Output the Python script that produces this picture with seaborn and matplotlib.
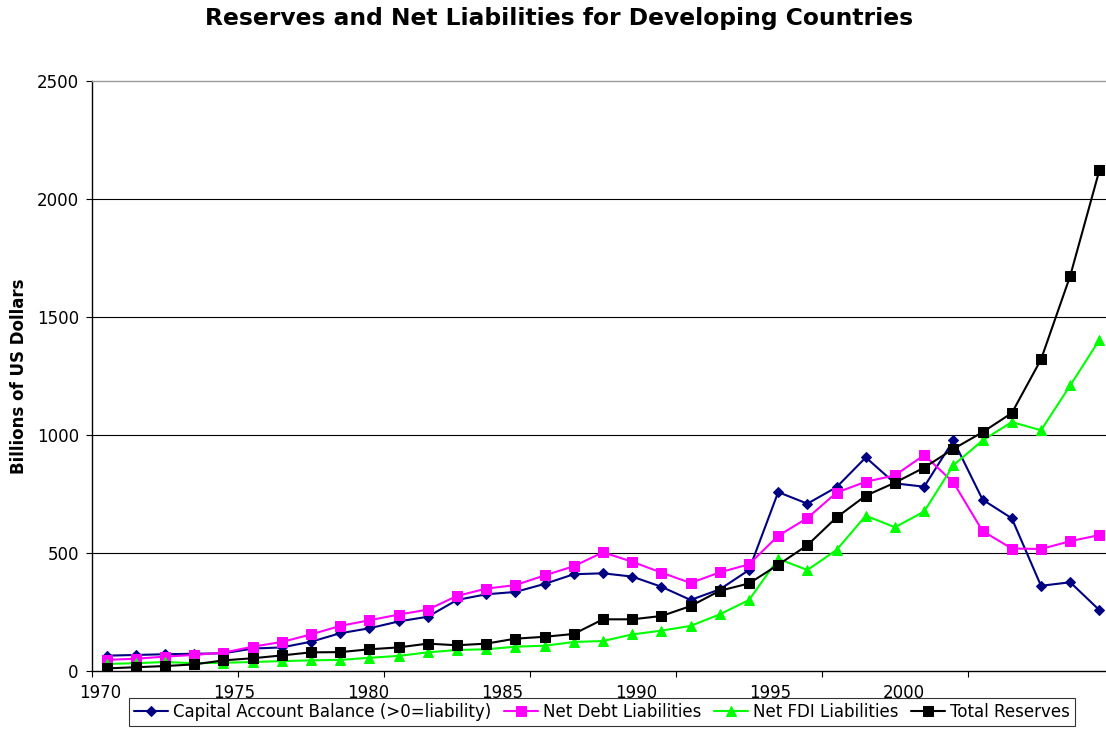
import numpy as np
import pandas as pd
import seaborn as sns
import matplotlib
matplotlib.use("Agg")
import matplotlib.pyplot as plt

years = list(range(1970, 2005))

capital_account = [65, 68, 71, 73, 75, 95, 100, 124, 160, 181, 210, 230, 301, 325, 335,
                   369, 410, 414, 400, 357, 301, 346, 428, 758, 709, 779, 905, 795, 781,
                   977, 726, 647, 361, 376, 258]
net_debt = [47, 52, 61, 68, 78, 103, 123, 155, 191, 215, 239, 260, 318, 349, 364,
            405, 444, 503, 463, 417, 373, 418, 452, 573, 648, 756, 802, 829, 915,
            799, 593, 519, 517, 550, 576]
net_fdi = [30, 33, 38, 33, 35, 38, 42, 45, 47, 56, 64, 79, 89, 92, 103,
           107, 123, 127, 155, 171, 191, 240, 301, 475, 428, 513, 658, 609, 676,
           872, 977, 1055, 1020, 1210, 1403]
total_reserves = [11, 16, 21, 28, 45, 54, 66, 79, 80, 92, 100, 116, 109, 116, 137,
                  145, 157, 219, 219, 233, 275, 340, 371, 450, 533, 651, 743, 798, 862,
                  941, 1012, 1093, 1320, 1674, 2122]

series_names = ["Capital Account Balance (>0=liability)", "Net Debt Liabilities",
                "Net FDI Liabilities", "Total Reserves"]
series_values = [capital_account, net_debt, net_fdi, total_reserves]
series_colors = ["#000080", "#FF00FF", "#00FF00", "#000000"]
series_markers = ["D", "s", "^", "s"]
series_msizes = [5.2, 7.0, 6.6, 7.0]

x_tick_labels = [1970, 1975, 1980, 1985, 1990, 1995, 2000]
y_ticks = [0, 500, 1000, 1500, 2000, 2500]

sns.set_style("white")
plt.rcParams["font.family"] = ["DejaVu Sans"]
plt.rcParams["text.color"] = "black"
plt.rcParams["axes.labelcolor"] = "black"
plt.rcParams["xtick.color"] = "black"
plt.rcParams["ytick.color"] = "black"

fig = plt.figure(figsize=(11.06, 7.55), dpi=100)
ax = fig.add_axes([92 / 1106, 84 / 755, 1022 / 1106, 590 / 755])

for name, vals, col, mk, ms in zip(series_names, series_values, series_colors,
                                   series_markers, series_msizes):
    df = pd.DataFrame({"year": years, "value": vals})
    sns.lineplot(data=df, x="year", y="value", ax=ax, color=col, marker=mk,
                 markersize=ms, markeredgecolor=col, markerfacecolor=col,
                 linewidth=1.5, label=name, zorder=3)

ax.set_xlim(1969.5, 2004.5)
ax.set_ylim(0, 2500)

# y axis
ax.set_yticks(y_ticks)
ax.set_yticklabels([str(v) for v in y_ticks], fontsize=12)
ax.tick_params(axis="y", which="major", direction="out", length=4.5, width=0.8,
               color="black", pad=5, left=True)
for v in y_ticks[1:-1]:
    ax.axhline(v, color="black", linewidth=0.8, zorder=1)

# x axis: tick marks every five categories, labels on their own positions
ax.set_xticks([1969.5 + 5 * k for k in range(7)])
ax.set_xticklabels([""] * 7)
ax.tick_params(axis="x", which="major", direction="out", length=4.5, width=0.8,
               color="black", bottom=True)
label_pos = [1969.77 + (lab - 1970) * 0.918 for lab in x_tick_labels]
ax.set_xticks(label_pos, minor=True)
ax.set_xticklabels([str(l) for l in x_tick_labels], minor=True, fontsize=12)
ax.tick_params(axis="x", which="minor", length=0, pad=9)

ax.set_xlabel("")
ax.set_ylabel("Billions of US Dollars", fontsize=12, fontweight="bold", labelpad=6)

for side in ["left", "bottom"]:
    ax.spines[side].set_color("black")
    ax.spines[side].set_linewidth(1.0)
ax.spines["top"].set_color("#999999")
ax.spines["top"].set_linewidth(1.0)
ax.spines["right"].set_visible(False)

fig.suptitle("Reserves and Net Liabilities for Developing Countries",
             fontsize=16.8, fontweight="bold", x=559 / 1106, y=1 - 18 / 755,
             va="center", color="black")

ax.get_legend().remove()
handles, labels = ax.get_legend_handles_labels()
leg = fig.legend(handles, labels, loc="center", ncol=4,
                 bbox_to_anchor=(602 / 1106, 1 - 712 / 755), fontsize=12,
                 frameon=True, fancybox=False, edgecolor="black",
                 handlelength=2.0, handletextpad=0.3, columnspacing=0.8,
                 borderpad=0.3)
leg.get_frame().set_linewidth(0.8)

fig.savefig("out.png", dpi=100)
